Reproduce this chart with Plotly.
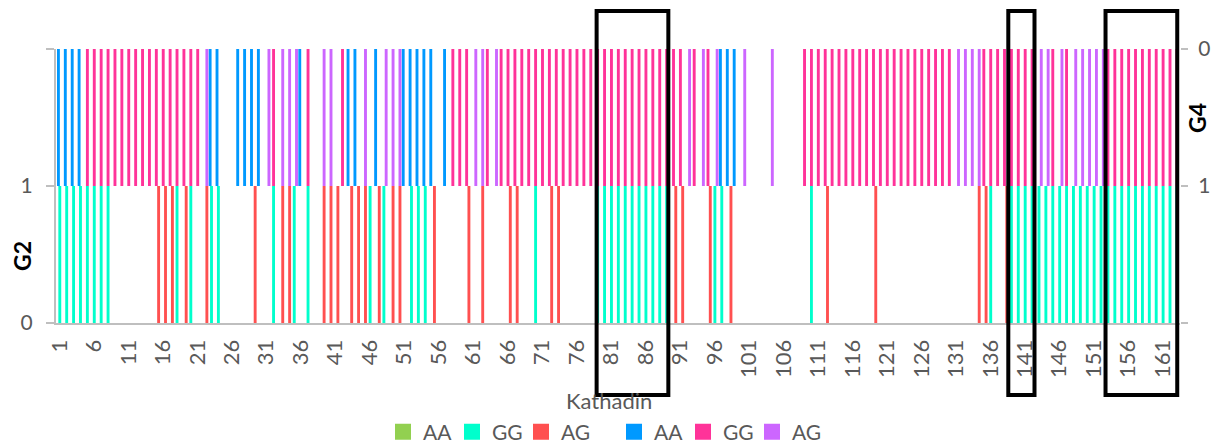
import plotly.graph_objects as go

# Marker positions along the Kathadin map (1..163)
positions = list(range(1, 164))

# Genotype calls per marker; "-" = no call
g2_calls = [
    "GG", "GG", "GG", "GG", "GG", "GG", "GG", "GG", "-", "-",        # 1-10
    "-", "-", "-", "-", "AG", "AG", "AG", "GG", "AG", "GG",          # 11-20
    "-", "AG", "GG", "GG", "-", "-", "-", "-", "AG", "-",            # 21-30
    "-", "GG", "AG", "AG", "GG", "-", "GG", "-", "AG", "AG",         # 31-40
    "AG", "-", "AG", "AG", "AG", "GG", "AG", "GG", "AG", "AG",       # 41-50
    "-", "GG", "GG", "GG", "AG", "-", "-", "-", "-", "AG",           # 51-60
    "-", "AG", "-", "-", "-", "AG", "AG", "-", "-", "GG",            # 61-70
    "-", "AG", "AG", "-", "-", "-", "-", "-", "GG", "GG",            # 71-80
    "GG", "GG", "GG", "GG", "GG", "GG", "GG", "GG", "GG", "AG",      # 81-90
    "AG", "-", "-", "-", "AG", "GG", "GG", "AG", "-", "-",           # 91-100
    "-", "-", "-", "-", "-", "-", "-", "-", "-", "GG",               # 101-110
    "-", "AG", "-", "-", "-", "-", "-", "-", "AG", "-",              # 111-120
    "-", "-", "-", "-", "-", "-", "-", "-", "-", "-",                # 121-130
    "-", "-", "-", "AG", "AG", "GG", "-", "AG", "GG", "GG",          # 131-140
    "GG", "GG", "GG", "GG", "GG", "GG", "GG", "GG", "GG", "GG",      # 141-150
    "GG", "GG", "GG", "GG", "GG", "GG", "GG", "GG", "GG", "GG",      # 151-160
    "GG", "GG", "GG",                                                # 161-163
]

g4_calls = [
    "AA", "AA", "AA", "AA", "GG", "GG", "GG", "GG", "GG", "GG",      # 1-10
    "GG", "GG", "GG", "GG", "GG", "GG", "GG", "GG", "GG", "GG",      # 11-20
    "GG", "AG", "AA", "AA", "-", "-", "AA", "AA", "AA", "AA",        # 21-30
    "AG", "GG", "AG", "AG", "AG", "AA", "GG", "-", "AG", "AG",       # 31-40
    "-", "GG", "AA", "AA", "AG", "-", "AA", "AG", "AG", "AG",        # 41-50
    "AA", "AA", "AA", "AA", "AA", "-", "AA", "GG", "GG", "GG",       # 51-60
    "AG", "AG", "GG", "AG", "GG", "GG", "GG", "GG", "GG", "GG",      # 61-70
    "GG", "GG", "GG", "GG", "GG", "GG", "GG", "GG", "GG", "GG",      # 71-80
    "GG", "GG", "GG", "GG", "GG", "GG", "GG", "GG", "GG", "GG",      # 81-90
    "GG", "AG", "GG", "AG", "GG", "AG", "AA", "AA", "AA", "AG",      # 91-100
    "-", "-", "-", "AG", "-", "-", "-", "-", "GG", "GG",             # 101-110
    "GG", "GG", "GG", "GG", "GG", "GG", "GG", "GG", "GG", "GG",      # 111-120
    "GG", "GG", "GG", "GG", "GG", "GG", "GG", "GG", "GG", "GG",      # 121-130
    "AG", "AG", "AG", "AG", "GG", "GG", "GG", "GG", "GG", "GG",      # 131-140
    "GG", "GG", "AG", "AG", "GG", "AG", "GG", "AG", "AG", "AG",      # 141-150
    "AG", "AG", "GG", "GG", "GG", "GG", "GG", "GG", "GG", "GG",      # 151-160
    "GG", "GG", "GG",                                                # 161-163
]

genotypes = ["AA", "GG", "AG"]
g2_colors = {"AA": "#92D050", "GG": "#00FFCC", "AG": "#FF5050"}
g4_colors = {"AA": "#0099FF", "GG": "#FF3399", "AG": "#CC66FF"}

# x tick labels every fifth marker
tick_positions = list(range(1, 164, 5))
tick_labels = [str(p) for p in tick_positions]

# Marker ranges outlined with a black frame
highlight_ranges = [(78.9, 89.3), (138.6, 142.4), (152.7, 163.1)]

FONT = "Lato"
GREY = "#595959"
AXIS_GREY = "#BFBFBF"

BAR_W = 0.42
slot_center = {"AA": -0.15, "GG": 0.05, "AG": 0.38}

fig = go.Figure()


def add_group(calls, colors, yaxis, legend):
    for gt in genotypes:
        ys = [1 if c == gt else None for c in calls]
        fig.add_trace(go.Bar(
            x=positions, y=ys, name=gt, width=BAR_W,
            offset=slot_center[gt] - BAR_W / 2,
            marker=dict(color=colors[gt], line=dict(width=0)),
            yaxis=yaxis, showlegend=False, legendgroup=legend + gt,
        ))
    # legend keys (square swatches)
    for gt in genotypes:
        fig.add_trace(go.Scatter(
            x=[None], y=[None], mode="markers", name=gt,
            marker=dict(symbol="square", size=16, color=colors[gt]),
            yaxis=yaxis, legend=legend, legendgroup=legend + gt,
        ))


add_group(g2_calls, g2_colors, "y", "legend")
add_group(g4_calls, g4_colors, "y2", "legend2")

W, H = 1219, 444
L, R, T, B = 56, 39, 49, 121
plot_w = W - L - R
plot_h = H - T - B


def py(px):
    """Pixel row -> paper y."""
    return (H - B - px) / plot_h


def px_x(px):
    """Pixel column -> paper x."""
    return (px - L) / plot_w


shapes = []
for x0, x1 in highlight_ranges:
    shapes.append(dict(type="rect", xref="x", yref="paper",
                       x0=x0, x1=x1, y0=py(395), y1=py(11),
                       line=dict(color="black", width=4), fillcolor="rgba(0,0,0,0)",
                       layer="above"))

legend_common = dict(orientation="h", xref="container", yref="container",
                     yanchor="middle", y=1 - 432 / H, bgcolor="rgba(0,0,0,0)",
                     font=dict(family=FONT, size=21, color=GREY),
                     itemwidth=30, entrywidth=24, tracegroupgap=0,
                     traceorder="normal")

fig.update_layout(
    width=W, height=H, autosize=False,
    margin=dict(l=L, r=R, t=T, b=B, pad=0, autoexpand=False),
    paper_bgcolor="white", plot_bgcolor="white",
    barmode="overlay",
    font=dict(family=FONT, color=GREY, size=21),
    xaxis=dict(
        range=[0.5, 163.5], tickmode="array", tickvals=tick_positions,
        ticktext=tick_labels, tickangle=-90, ticks="",
        ticklabelstandoff=6, automargin=False,
        tickfont=dict(family=FONT, size=22, color=GREY),
        showline=True, linecolor=AXIS_GREY, linewidth=2,
        showgrid=False, zeroline=False,
    ),
    yaxis=dict(
        range=[0, 2], tickmode="array", tickvals=[0, 1, 2], ticktext=["0", "1", ""],
        ticks="outside", ticklen=8, tickcolor=AXIS_GREY, tickwidth=2,
        ticklabelstandoff=9, automargin=False,
        tickfont=dict(family=FONT, size=21, color=GREY),
        showline=True, linecolor=AXIS_GREY, linewidth=2,
        showgrid=False, zeroline=False,
    ),
    yaxis2=dict(
        range=[2, 0], overlaying="y", side="right",
        tickmode="array", tickvals=[0, 1, 2], ticktext=["0", "1", ""],
        ticks="outside", ticklen=7, tickcolor=AXIS_GREY, tickwidth=2,
        ticklabelstandoff=6, automargin=False,
        tickfont=dict(family=FONT, size=21, color=GREY),
        showline=False, showgrid=False, zeroline=False,
    ),
    legend=dict(x=383 / W, xanchor="left", **legend_common),
    legend2=dict(x=614 / W, xanchor="left", **legend_common),
    shapes=shapes,
    annotations=[
        dict(text="Kathadin", xref="paper", yref="paper",
             x=px_x(609), xanchor="center", y=py(400), yanchor="middle",
             showarrow=False, font=dict(family=FONT, size=22, color=GREY)),
        dict(text="<b>G2</b>", xref="paper", yref="paper", x=px_x(22), xanchor="center",
             y=py(256), yanchor="middle", textangle=-90, showarrow=False,
             font=dict(family=FONT, size=23, color="black")),
        dict(text="<b>G4</b>", xref="paper", yref="paper", x=px_x(1197),
             xanchor="center", y=py(118), yanchor="middle", textangle=-90, showarrow=False,
             font=dict(family=FONT, size=23, color="black")),
    ],
)

fig.write_html("out.html")
